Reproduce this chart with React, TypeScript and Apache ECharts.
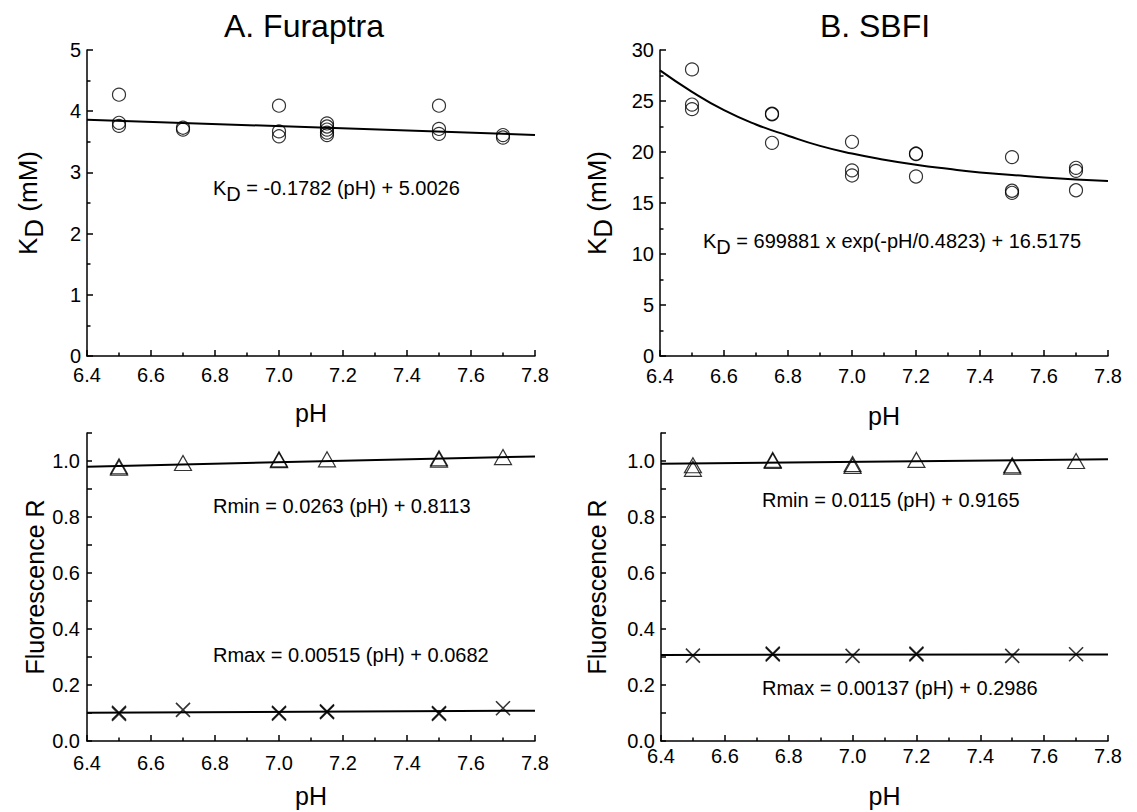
import React, { useEffect, useRef } from "react";
import * as echarts from "echarts";

const FONT = '"Liberation Sans", Arial, sans-serif';

// ---- Data ----
// Panel A (Furaptra) K_D vs pH
const furaKdPoints: number[][] = [
  [6.5, 4.27], [6.5, 3.81], [6.5, 3.76],
  [6.7, 3.73], [6.7, 3.70],
  [7.0, 4.09], [7.0, 3.67], [7.0, 3.59],
  [7.15, 3.80], [7.15, 3.75], [7.15, 3.70], [7.15, 3.65], [7.15, 3.61],
  [7.5, 4.09], [7.5, 3.71], [7.5, 3.63],
  [7.7, 3.61], [7.7, 3.57],
];
const furaKdFit: number[][] = [[6.4, 3.862], [7.8, 3.613]];

// Panel B (SBFI) K_D vs pH
const sbfiKdPoints: number[][] = [
  [6.5, 28.1], [6.5, 24.65], [6.5, 24.2],
  [6.75, 23.7], [6.75, 23.75], [6.75, 20.9],
  [7.0, 21.0], [7.0, 18.2], [7.0, 17.7],
  [7.2, 19.8], [7.2, 19.85], [7.2, 17.6],
  [7.5, 19.5], [7.5, 16.2], [7.5, 16.0],
  [7.7, 18.45], [7.7, 18.15], [7.7, 16.25],
];
const sbfiKdFit: number[][] = [
  [6.4, 28.0], [6.5, 25.9], [6.6, 24.1], [6.7, 22.7], [6.8, 21.6], [6.9, 20.6],
  [7.0, 19.85], [7.1, 19.25], [7.2, 18.75], [7.3, 18.35], [7.4, 18.0], [7.5, 17.75],
  [7.6, 17.5], [7.7, 17.3], [7.8, 17.15],
];

// Panel A (Furaptra) Rmin / Rmax
const furaRmin: number[][] = [
  [6.5, 0.981], [6.5, 0.976], [6.7, 0.993], [7.0, 1.006], [7.0, 1.003],
  [7.15, 1.006], [7.5, 1.01], [7.5, 1.005], [7.7, 1.014],
];
const furaRminFit: number[][] = [[6.4, 0.9796], [7.8, 1.0164]];
const furaRmax: number[][] = [
  [6.5, 0.097], [6.5, 0.101], [6.7, 0.111], [7.0, 0.098], [7.0, 0.101],
  [7.15, 0.103], [7.15, 0.106], [7.5, 0.097], [7.5, 0.1], [7.7, 0.117],
];
const furaRmaxFit: number[][] = [[6.4, 0.1012], [7.8, 0.1084]];

// Panel B (SBFI) Rmin / Rmax
const sbfiRmin: number[][] = [
  [6.5, 0.985], [6.5, 0.972], [6.75, 1.004], [6.75, 1.0], [7.0, 0.989], [7.0, 0.982],
  [7.2, 1.004], [7.5, 0.985], [7.5, 0.98], [7.7, 1.0],
];
const sbfiRminFit: number[][] = [[6.4, 0.990], [7.8, 1.0062]];
const sbfiRmax: number[][] = [
  [6.5, 0.305], [6.75, 0.309], [6.75, 0.312], [7.0, 0.304], [7.2, 0.309], [7.2, 0.312],
  [7.5, 0.304], [7.7, 0.31],
];
const sbfiRmaxFit: number[][] = [[6.4, 0.3074], [7.8, 0.3093]];

// Text labels
const titleA = "A. Furaptra";
const titleB = "B. SBFI";
const eqKdA = " = -0.1782 (pH) + 5.0026";
const eqKdB = " = 699881 x exp(-pH/0.4823) + 16.5175";
const eqRminA = "Rmin = 0.0263 (pH) + 0.8113";
const eqRmaxA = "Rmax = 0.00515 (pH) + 0.0682";
const eqRminB = "Rmin = 0.0115 (pH) + 0.9165";
const eqRmaxB = "Rmax = 0.00137 (pH) + 0.2986";

const BLACK = "#000";
const TICK_FONT = 20;

const subRich = (size: number, off: number) => ({
  a: { fontSize: size, fontFamily: FONT, color: BLACK, padding: [0, 0, off, 0] },
  b: { fontSize: size, fontFamily: FONT, color: BLACK, padding: [off, 0, 0, 0] },
});

const lineStyleAxis = { color: BLACK, width: 1.5 };

function xAx(gridIndex: number, margin: number, nameGap: number) {
  return {
    type: "value",
    gridIndex,
    min: 6.4,
    max: 7.8,
    interval: 0.2,
    name: "pH",
    nameLocation: "middle",
    nameGap,
    nameTextStyle: { fontSize: 25, fontFamily: FONT, color: BLACK },
    axisLine: { show: true, onZero: false, lineStyle: lineStyleAxis },
    axisTick: { show: true, inside: true, length: 6, lineStyle: lineStyleAxis },
    minorTick: { show: true, splitNumber: 2, length: 3.5, lineStyle: lineStyleAxis },
    splitLine: { show: false },
    minorSplitLine: { show: false },
    axisLabel: {
      margin,
      fontSize: TICK_FONT,
      fontFamily: FONT,
      color: BLACK,
      formatter: (v: number) => v.toFixed(1),
    },
  };
}

function yAxBase(gridIndex: number, min: number, max: number, interval: number, nameGap: number) {
  return {
    type: "value",
    gridIndex,
    min,
    max,
    interval,
    nameLocation: "middle",
    nameGap,
    axisLine: { show: true, onZero: false, lineStyle: lineStyleAxis },
    axisTick: { show: true, inside: true, length: 6, lineStyle: lineStyleAxis },
    splitLine: { show: false },
    minorSplitLine: { show: false },
  };
}

const labelStyle = { fontSize: TICK_FONT, fontFamily: FONT, color: BLACK, margin: 6 };

const circleStyle = { color: "transparent", borderColor: BLACK, borderWidth: 1.2 };
const crossStyle = { color: "none", borderColor: BLACK, borderWidth: 1.6 };
const crossSymbol = "path://M0,0L10,10M10,0L0,10";

export default function App() {
  const ref = useRef<HTMLDivElement>(null);
  useEffect(() => {
    if (!ref.current) return;
    const chart = echarts.init(ref.current, undefined, { renderer: "svg" });
    const option: any = {
      animation: false,
      backgroundColor: "#fff",
      grid: [
        { left: 87, right: 602, top: 50, bottom: 456 },
        { left: 660, right: 29, top: 50, bottom: 456 },
        { left: 87, right: 602, top: 433, bottom: 71 },
        { left: 661, right: 29, top: 433, bottom: 71 },
      ],
      xAxis: [xAx(0, 9, 44), xAx(1, 10, 47), xAx(2, 12, 42), xAx(3, 5, 42)],
      yAxis: [
        {
          ...yAxBase(0, 0, 5, 1, 40),
          name: "{a|K}{b|D}{a| (mM)}",
          nameTextStyle: { rich: subRich(26, 6) },
          minorTick: { show: true, splitNumber: 2, length: 3.5, lineStyle: lineStyleAxis },
          axisLabel: { ...labelStyle, formatter: (v: number) => String(Math.round(v)) },
        },
        {
          ...yAxBase(1, 0, 30, 5, 44),
          name: "{a|K}{b|D}{a| (mM)}",
          nameTextStyle: { rich: subRich(26, 6) },
          minorTick: { show: true, splitNumber: 2, length: 3.5, lineStyle: lineStyleAxis },
          axisLabel: { ...labelStyle, formatter: (v: number) => String(Math.round(v)) },
        },
        {
          ...yAxBase(2, 0, 1.1, 0.1, 40),
          name: "Fluorescence R",
          nameTextStyle: { fontSize: 25, fontFamily: FONT, color: BLACK },
          axisTick: { show: true, inside: true, length: 5, lineStyle: lineStyleAxis },
          axisLabel: {
            ...labelStyle,
            margin: 7,
            formatter: (v: number) => (Math.round(v * 10) % 2 === 0 ? v.toFixed(1) : ""),
          },
        },
        {
          ...yAxBase(3, 0, 1.1, 0.1, 52),
          name: "Fluorescence R",
          nameTextStyle: { fontSize: 25, fontFamily: FONT, color: BLACK },
          axisTick: { show: true, inside: true, length: 5, lineStyle: lineStyleAxis },
          axisLabel: {
            ...labelStyle,
            formatter: (v: number) => (Math.round(v * 10) % 2 === 0 ? v.toFixed(1) : ""),
          },
        },
      ],
      series: [
        {
          type: "line", xAxisIndex: 0, yAxisIndex: 0, data: furaKdFit, symbol: "none",
          lineStyle: { color: BLACK, width: 2 }, silent: true, z: 2,
        },
        {
          type: "scatter", xAxisIndex: 0, yAxisIndex: 0, data: furaKdPoints, symbol: "circle",
          symbolSize: 13, itemStyle: circleStyle, silent: true, z: 3,
        },
        {
          type: "line", xAxisIndex: 1, yAxisIndex: 1, data: sbfiKdFit, symbol: "none", smooth: true,
          lineStyle: { color: BLACK, width: 2 }, silent: true, z: 2,
        },
        {
          type: "scatter", xAxisIndex: 1, yAxisIndex: 1, data: sbfiKdPoints, symbol: "circle",
          symbolSize: 13, itemStyle: circleStyle, silent: true, z: 3,
        },
        {
          type: "line", xAxisIndex: 2, yAxisIndex: 2, data: furaRminFit, symbol: "none",
          lineStyle: { color: BLACK, width: 2 }, silent: true, z: 2,
        },
        {
          type: "scatter", xAxisIndex: 2, yAxisIndex: 2, data: furaRmin, symbol: "triangle",
          symbolSize: [17, 15], itemStyle: circleStyle, silent: true, z: 3,
        },
        {
          type: "line", xAxisIndex: 2, yAxisIndex: 2, data: furaRmaxFit, symbol: "none",
          lineStyle: { color: BLACK, width: 2 }, silent: true, z: 2,
        },
        {
          type: "scatter", xAxisIndex: 2, yAxisIndex: 2, data: furaRmax, symbol: crossSymbol,
          symbolSize: 14, itemStyle: crossStyle, silent: true, z: 3,
        },
        {
          type: "line", xAxisIndex: 3, yAxisIndex: 3, data: sbfiRminFit, symbol: "none",
          lineStyle: { color: BLACK, width: 2 }, silent: true, z: 2,
        },
        {
          type: "scatter", xAxisIndex: 3, yAxisIndex: 3, data: sbfiRmin, symbol: "triangle",
          symbolSize: [17, 15], itemStyle: circleStyle, silent: true, z: 3,
        },
        {
          type: "line", xAxisIndex: 3, yAxisIndex: 3, data: sbfiRmaxFit, symbol: "none",
          lineStyle: { color: BLACK, width: 2 }, silent: true, z: 2,
        },
        {
          type: "scatter", xAxisIndex: 3, yAxisIndex: 3, data: sbfiRmax, symbol: crossSymbol,
          symbolSize: 14, itemStyle: crossStyle, silent: true, z: 3,
        },
      ],
      graphic: [
        {
          type: "text", x: 304, y: 26,
          style: { text: titleA, fontSize: 32, fontFamily: FONT, fill: BLACK, align: "center", verticalAlign: "middle" },
        },
        {
          type: "text", x: 875, y: 26,
          style: { text: titleB, fontSize: 32, fontFamily: FONT, fill: BLACK, align: "center", verticalAlign: "middle" },
        },
        {
          type: "text", x: 213, y: 190.5,
          style: { text: "{a|K}{b|D}{a|" + eqKdA + "}", rich: subRich(20, 6), verticalAlign: "middle" },
        },
        {
          type: "text", x: 703, y: 243.5,
          style: { text: "{a|K}{b|D}{a|" + eqKdB + "}", rich: subRich(20, 6), verticalAlign: "middle" },
        },
        {
          type: "text", x: 213, y: 506,
          style: { text: eqRminA, fontSize: 20, fontFamily: FONT, fill: BLACK, verticalAlign: "middle" },
        },
        {
          type: "text", x: 213, y: 655,
          style: { text: eqRmaxA, fontSize: 20, fontFamily: FONT, fill: BLACK, verticalAlign: "middle" },
        },
        {
          type: "text", x: 762, y: 500,
          style: { text: eqRminB, fontSize: 20, fontFamily: FONT, fill: BLACK, verticalAlign: "middle" },
        },
        {
          type: "text", x: 762, y: 687.5,
          style: { text: eqRmaxB, fontSize: 20, fontFamily: FONT, fill: BLACK, verticalAlign: "middle" },
        },
      ],
    };
    chart.setOption(option);
    return () => chart.dispose();
  }, []);
  return (
    <div
      ref={ref}
      style={{ position: "absolute", left: 0, top: 0, width: 1137, height: 812, background: "#fff" }}
    />
  );
}
